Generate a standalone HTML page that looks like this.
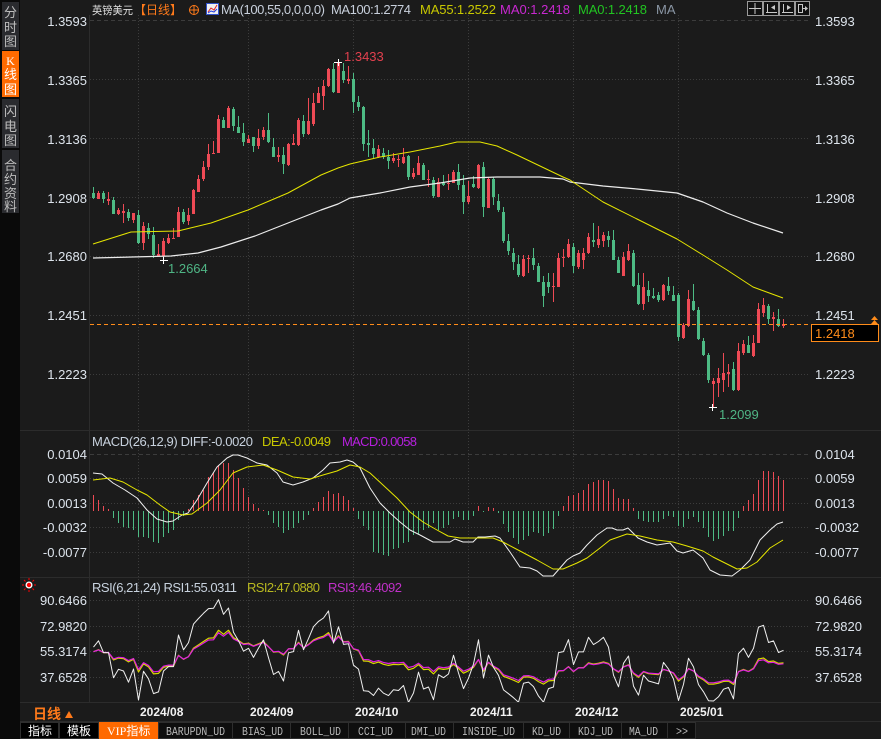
<!DOCTYPE html>
<html><head><meta charset="utf-8">
<style>
html,body{margin:0;padding:0;background:#1b1b1b;width:881px;height:739px;overflow:hidden}
svg{display:block}
text{font-family:"Liberation Sans","Noto Sans CJK SC",sans-serif}
.ax{font-size:13px;fill:#dde4ec}
.cj{font-family:"Noto Sans CJK SC","WenQuanYi Zen Hei",sans-serif}
.mono{font-family:"Liberation Mono",monospace;font-size:11.5px;fill:#b8b8b8}
</style></head>
<body>
<svg id="s" width="881" height="739" viewBox="0 0 881 739" xmlns="http://www.w3.org/2000/svg">
<defs>
<clipPath id="rsiClip"><rect x="90" y="588" width="722" height="114"/></clipPath>
</defs>
<rect width="881" height="739" fill="#1b1b1b"/>
<!-- sidebar -->
<rect x="0" y="0" width="20" height="739" fill="#0a0a0a"/>
<rect x="2" y="2" width="17" height="48" fill="#2a2b2f"/>
<rect x="2" y="51" width="17" height="46" fill="#ff6a00"/>
<rect x="2" y="99" width="17" height="49" fill="#2a2b2f"/>
<rect x="2" y="150" width="17" height="63" fill="#2a2b2f"/>
<g class="cj" font-size="13" text-anchor="middle" fill="#bdbdbd">
<text x="10.5" y="17">分</text><text x="10.5" y="32">时</text><text x="10.5" y="46">图</text>
<text x="10.5" y="65" fill="#fff" style="font-family:'Liberation Serif',serif" font-size="12">K</text><text x="10.5" y="79" fill="#fff">线</text><text x="10.5" y="94" fill="#fff">图</text>
<text x="10.5" y="116">闪</text><text x="10.5" y="131">电</text><text x="10.5" y="145">图</text>
<text x="10.5" y="170">合</text><text x="10.5" y="184">约</text><text x="10.5" y="198">资</text><text x="10.5" y="211">料</text>
</g>

<!-- separators -->
<g stroke="#2c2c2c" stroke-width="1">
<line x1="20" y1="430.5" x2="881" y2="430.5"/>
<line x1="20" y1="577.5" x2="881" y2="577.5"/>
<line x1="20" y1="702.5" x2="881" y2="702.5"/>
<line x1="20" y1="721.5" x2="881" y2="721.5"/>
<line x1="89.5" y1="15" x2="89.5" y2="702"/>
</g>

<!-- grid -->
<g stroke="#3c3c3c" stroke-width="1" fill="none">
<line x1="90" y1="20.5" x2="810" y2="20.5" stroke-dasharray="4,3"/>
<line x1="90" y1="79.5" x2="810" y2="79.5" stroke-dasharray="1,2"/>
<line x1="90" y1="138.5" x2="810" y2="138.5" stroke-dasharray="1,2"/>
<line x1="90" y1="197.5" x2="810" y2="197.5" stroke-dasharray="1,2"/>
<line x1="90" y1="256.5" x2="810" y2="256.5" stroke-dasharray="1,2"/>
<line x1="90" y1="315.5" x2="810" y2="315.5" stroke-dasharray="1,2"/>
<line x1="90" y1="374.5" x2="810" y2="374.5" stroke-dasharray="1,2"/>
<line x1="90" y1="454.5" x2="810" y2="454.5" stroke-dasharray="4,3"/>
<line x1="90" y1="478.5" x2="810" y2="478.5" stroke-dasharray="1,2"/>
<line x1="90" y1="503.5" x2="810" y2="503.5" stroke-dasharray="1,2"/>
<line x1="90" y1="527.5" x2="810" y2="527.5" stroke-dasharray="1,2"/>
<line x1="90" y1="552.5" x2="810" y2="552.5" stroke-dasharray="1,2"/>
<line x1="90" y1="600.5" x2="810" y2="600.5" stroke-dasharray="1,2"/>
<line x1="90" y1="626.5" x2="810" y2="626.5" stroke-dasharray="1,2"/>
<line x1="90" y1="651.5" x2="810" y2="651.5" stroke-dasharray="1,2"/>
<line x1="90" y1="677.5" x2="810" y2="677.5" stroke-dasharray="1,2"/>
<line x1="138.5" y1="15" x2="138.5" y2="702" stroke-dasharray="1,2"/>
<line x1="248.5" y1="15" x2="248.5" y2="702" stroke-dasharray="1,2"/>
<line x1="353.5" y1="15" x2="353.5" y2="702" stroke-dasharray="1,2"/>
<line x1="468.5" y1="15" x2="468.5" y2="702" stroke-dasharray="1,2"/>
<line x1="573.5" y1="15" x2="573.5" y2="702" stroke-dasharray="1,2"/>
<line x1="678.5" y1="15" x2="678.5" y2="702" stroke-dasharray="1,2"/>
</g>

<g id="dyn"></g>

<!-- current price dashed line -->
<line x1="90" y1="324.5" x2="811" y2="324.5" stroke="#ff8c1a" stroke-width="1" stroke-dasharray="4,3"/>

<!-- header -->
<text x="92" y="14" font-size="11" fill="#e0e0e0" class="cj" textLength="41" lengthAdjust="spacingAndGlyphs">英镑美元</text>
<text x="134" y="14" font-size="12" fill="#ff7a1a" class="cj">【日线】</text>
<circle cx="194" cy="10" r="4.5" fill="none" stroke="#ff7a1a" stroke-width="1"/>
<line x1="189" y1="10" x2="199" y2="10" stroke="#ff7a1a"/><line x1="194" y1="5" x2="194" y2="15" stroke="#ff7a1a"/>
<rect x="206.5" y="3.5" width="12" height="11" fill="#f0f0f0" stroke="#2f50c8"/>
<polyline points="208,12 211,8 214,10 217,5" fill="none" stroke="#e02020" stroke-width="1"/>
<polyline points="208,13 211,11 214,12 217,9" fill="none" stroke="#2040e0" stroke-width="1"/>
<text x="221" y="14" font-size="13" fill="#c8d0dc" textLength="104">MA(100,55,0,0,0,0)</text>
<text x="331" y="14" font-size="13" fill="#c8d0dc" textLength="80">MA100:1.2774</text>
<text x="420" y="14" font-size="13" fill="#c8c800" textLength="76">MA55:1.2522</text>
<text x="500" y="14" font-size="13" fill="#c828d0" textLength="70">MA0:1.2418</text>
<text x="578" y="14" font-size="13" fill="#22c422" textLength="69">MA0:1.2418</text>
<text x="656" y="14" font-size="13" fill="#8a96a4">MA</text>

<!-- top right buttons -->
<g fill="#111" stroke="#9a9a9a" stroke-width="1">
<rect x="747.5" y="1.5" width="15" height="14"/>
<rect x="763.5" y="1.5" width="15" height="14"/>
<rect x="779.5" y="1.5" width="15" height="14"/>
<rect x="795.5" y="1.5" width="14" height="14"/>
</g>
<g stroke="#c8c8c8" stroke-width="1" fill="#c8c8c8">
<line x1="755" y1="3" x2="755" y2="14"/><line x1="749" y1="8.5" x2="761" y2="8.5"/>
<line x1="767.5" y1="4" x2="767.5" y2="13"/><line x1="766" y1="12.5" x2="777" y2="12.5"/><polygon points="775,5 775,10 771,7.5" stroke="none"/>
<line x1="783.5" y1="4" x2="783.5" y2="13"/><line x1="782" y1="12.5" x2="793" y2="12.5"/><polygon points="787,5 787,10 791,7.5" stroke="none"/>
<rect x="798.5" y="4.5" width="4" height="8" fill="none"/><line x1="802" y1="8.5" x2="806" y2="8.5"/><polygon points="805,6 805,11 808,8.5" stroke="none"/>
</g>

<!-- left axis labels -->
<g class="ax" text-anchor="end">
<text x="87" y="26">1.3593</text><text x="87" y="85">1.3365</text><text x="87" y="144">1.3136</text>
<text x="87" y="203">1.2908</text><text x="87" y="261">1.2680</text><text x="87" y="320">1.2451</text><text x="87" y="379">1.2223</text>
<text x="87" y="459">0.0104</text><text x="87" y="483">0.0059</text><text x="87" y="508">0.0013</text>
<text x="87" y="532">-0.0032</text><text x="87" y="557">-0.0077</text>
<text x="87" y="605">90.6466</text><text x="87" y="631">72.9820</text><text x="87" y="656">55.3174</text><text x="87" y="682">37.6528</text>
</g>
<!-- right axis labels -->
<g class="ax">
<text x="815" y="26">1.3593</text><text x="815" y="85">1.3365</text><text x="815" y="144">1.3136</text>
<text x="815" y="203">1.2908</text><text x="815" y="261">1.2680</text><text x="815" y="320">1.2451</text><text x="815" y="379">1.2223</text>
<text x="815" y="459">0.0104</text><text x="815" y="483">0.0059</text><text x="815" y="508">0.0013</text>
<text x="815" y="532">-0.0032</text><text x="815" y="557">-0.0077</text>
<text x="815" y="605">90.6466</text><text x="815" y="631">72.9820</text><text x="815" y="656">55.3174</text><text x="815" y="682">37.6528</text>
</g>

<!-- current price box -->
<rect x="811.5" y="324.5" width="67" height="17" fill="#000" stroke="#ff8c1a" stroke-width="1"/>
<text x="815" y="338" font-size="13" fill="#ff8c1a">1.2418</text>
<polygon points="871,320 874.5,316 878,320" fill="#ff8c1a"/>
<polygon points="871,324 874.5,320 878,324" fill="#ff8c1a"/>

<!-- annotations -->
<g stroke="#ffffff" stroke-width="1">
<line x1="334" y1="62.5" x2="342" y2="62.5"/><line x1="338.5" y1="59" x2="338.5" y2="66"/>
<line x1="160" y1="260.5" x2="168" y2="260.5"/><line x1="163.5" y1="257" x2="163.5" y2="264"/>
<line x1="709" y1="407.5" x2="717" y2="407.5"/><line x1="712.5" y1="404" x2="712.5" y2="411"/>
</g>
<text x="344" y="61" font-size="13" fill="#e2404e">1.3433</text>
<text x="168" y="273" font-size="13" fill="#4fb585">1.2664</text>
<text x="719" y="419" font-size="13" fill="#4fb585">1.2099</text>

<!-- MACD header -->
<text x="92" y="446" font-size="13" fill="#c8d2de" textLength="161">MACD(26,12,9) DIFF:-0.0020</text>
<text x="262" y="446" font-size="13" fill="#c8c800" textLength="69">DEA:-0.0049</text>
<text x="342" y="446" font-size="13" fill="#b820e0" textLength="75">MACD:0.0058</text>

<!-- RSI header -->
<g>
<line x1="22" y1="585" x2="24" y2="585" stroke="#f00"/><line x1="34" y1="585" x2="36" y2="585" stroke="#f00"/>
<line x1="29" y1="578" x2="29" y2="580" stroke="#f00"/><line x1="29" y1="590" x2="29" y2="592" stroke="#f00"/>
<line x1="24" y1="580" x2="25.5" y2="581.5" stroke="#f00"/><line x1="34" y1="580" x2="32.5" y2="581.5" stroke="#f00"/>
<line x1="24" y1="590" x2="25.5" y2="588.5" stroke="#f00"/><line x1="34" y1="590" x2="32.5" y2="588.5" stroke="#f00"/>
<circle cx="29" cy="585" r="3.5" fill="#fff"/>
<circle cx="29" cy="585" r="2.2" fill="#f00"/>
</g>
<text x="92" y="592" font-size="13" fill="#c8d2de" textLength="145">RSI(6,21,24) RSI1:55.0311</text>
<text x="247" y="592" font-size="13" fill="#b8b820" textLength="73">RSI2:47.0880</text>
<text x="328" y="592" font-size="13" fill="#c030c8" textLength="74">RSI3:46.4092</text>

<!-- date axis -->
<g font-size="12" font-weight="bold" fill="#f2f2f2">
<text x="140" y="716">2024/08</text><text x="250" y="716">2024/09</text><text x="355" y="716">2024/10</text>
<text x="470" y="716">2024/11</text><text x="575" y="716">2024/12</text><text x="680" y="716">2025/01</text>
</g>
<text x="33" y="719" font-size="14" font-weight="bold" fill="#ff7a1a" class="cj">日线</text>
<polygon points="65,718 69,711 73,718" fill="#ff7a1a"/>

<!-- tab bar -->
<rect x="20" y="722" width="861" height="17" fill="#1b1b1b"/>
<g fill="#0e0e0e" stroke="#2e2e2e" stroke-width="1">
<rect x="20.5" y="722.5" width="38" height="16" fill="#000"/>
<rect x="59.5" y="722.5" width="39" height="16" fill="#000"/>
<rect x="158.5" y="722.5" width="74" height="16"/>
<rect x="232.5" y="722.5" width="58" height="16"/>
<rect x="290.5" y="722.5" width="58" height="16"/>
<rect x="348.5" y="722.5" width="57" height="16"/>
<rect x="405.5" y="722.5" width="48" height="16"/>
<rect x="453.5" y="722.5" width="70" height="16"/>
<rect x="523.5" y="722.5" width="46" height="16"/>
<rect x="569.5" y="722.5" width="52" height="16"/>
<rect x="621.5" y="722.5" width="46" height="16"/>
<rect x="667.5" y="722.5" width="28" height="16"/>
</g>
<rect x="99" y="722" width="59" height="17" fill="#ff6a00"/>
<text x="28" y="735" font-size="12" fill="#fff" class="cj">指标</text>
<text x="67" y="735" font-size="12" fill="#fff" class="cj">模板</text>
<text x="107" y="735" font-size="12" fill="#fff"><tspan style="font-family:'Liberation Serif',serif">VIP</tspan><tspan class="cj">指标</tspan></text>
<text x="166" y="735" class="mono" textLength="59" lengthAdjust="spacingAndGlyphs">BARUPDN_UD</text>
<text x="242" y="735" class="mono" textLength="41" lengthAdjust="spacingAndGlyphs">BIAS_UD</text>
<text x="300" y="735" class="mono" textLength="41" lengthAdjust="spacingAndGlyphs">BOLL_UD</text>
<text x="358" y="735" class="mono" textLength="35" lengthAdjust="spacingAndGlyphs">CCI_UD</text>
<text x="411" y="735" class="mono" textLength="35" lengthAdjust="spacingAndGlyphs">DMI_UD</text>
<text x="462" y="735" class="mono" textLength="53" lengthAdjust="spacingAndGlyphs">INSIDE_UD</text>
<text x="532" y="735" class="mono" textLength="29" lengthAdjust="spacingAndGlyphs">KD_UD</text>
<text x="578" y="735" class="mono" textLength="35" lengthAdjust="spacingAndGlyphs">KDJ_UD</text>
<text x="629" y="735" class="mono" textLength="29" lengthAdjust="spacingAndGlyphs">MA_UD</text>
<text x="676" y="735" class="mono" textLength="12" lengthAdjust="spacingAndGlyphs">&gt;&gt;</text>
</svg>

<script>
(function(){
const NS='http://www.w3.org/2000/svg';
const dyn=document.getElementById('dyn');
function el(tag,attrs,parent){const e=document.createElementNS(NS,tag);for(const k in attrs)e.setAttribute(k,attrs[k]);(parent||dyn).appendChild(e);return e;}
const RED='#ee4a55', GRN='#4dbb84';
const C=[
[0,193,198,187,199],[1,193,199,191,199],[0,193,199,191,203],[1,199,201,192,205],[0,200,214,197,214],
[1,210,214,208,215],[1,211,213,204,223],[0,212,218,209,221],[1,213,220,213,223],[0,215,243,210,244],
[1,226,243,222,250],[0,228,234,223,239],[0,235,255,227,258],[1,254,256,244,256],[1,241,256,238,260],
[1,238,243,234,244],[1,238,239,228,239],[1,212,237,207,237],[0,212,222,209,224],[1,215,221,208,225],
[1,190,214,189,214],[1,179,192,175,192],[1,167,179,161,181],[1,154,167,144,170],[1,153,154,141,154],
[1,119,153,115,153],[0,120,128,117,128],[1,108,128,106,128],[0,109,126,107,131],[0,127,133,116,133],
[0,133,142,123,146],[1,139,143,135,143],[0,137,146,137,152],[1,138,146,129,149],[1,130,137,127,140],
[0,130,142,113,143],[0,147,157,138,157],[1,155,157,147,162],[0,155,164,147,174],[1,144,165,143,166],
[1,143,145,134,145],[1,120,145,118,146],[0,121,134,115,137],[1,121,134,98,135],[1,103,124,93,126],
[1,93,103,87,103],[1,86,96,80,110],[1,69,86,68,87],[0,69,92,63,93],[1,63,93,62,93],
[0,71,80,63,83],[1,79,81,66,84],[0,79,102,73,113],[0,102,107,96,111],[0,107,144,106,151],
[0,143,145,130,157],[0,148,154,139,158],[1,149,157,145,158],[0,153,157,148,159],[0,157,161,150,169],
[1,158,161,153,163],[1,159,160,155,167],[1,157,163,148,164],[0,156,177,155,180],[1,173,177,168,179],
[1,163,175,156,175],[0,165,180,163,180],[1,179,180,170,187],[0,180,196,177,198],[1,182,197,178,197],
[0,183,185,175,186],[1,183,184,174,190],[1,172,183,170,183],[0,172,185,164,190],[0,185,202,175,214],
[1,196,202,181,204],[0,184,187,176,188],[1,165,188,164,189],[0,167,207,162,217],[1,179,208,177,208],
[0,179,197,177,205],[0,201,210,194,212],[0,212,241,207,243],[0,241,251,234,255],[0,253,262,248,270],
[0,264,275,255,277],[1,259,276,255,277],[1,258,259,255,273],[0,258,265,248,270],[0,266,282,263,282],
[0,282,296,276,307],[0,282,287,273,293],[1,286,287,273,302],[1,258,287,253,287],[1,257,258,249,267],
[1,244,257,239,258],[0,247,266,243,273],[1,253,267,250,269],[1,253,260,248,269],[1,237,253,233,254],
[0,240,242,223,247],[1,239,245,226,248],[1,235,241,232,247],[0,236,240,231,247],[0,240,260,230,260],
[0,260,273,257,273],[1,257,276,252,276],[1,251,260,244,261],[0,253,286,250,287],[0,285,304,273,305],
[1,287,304,273,310],[0,290,296,281,302],[0,296,298,288,299],[0,295,300,292,302],[1,285,300,284,301],
[0,286,291,277,295],[0,295,301,286,301],[0,295,337,293,341],[1,325,338,323,339],[1,299,326,290,327],
[0,301,310,284,311],[0,310,339,307,340],[0,341,355,338,356],[0,355,380,353,383],[1,381,384,378,407],
[1,378,383,368,397],[1,373,380,353,392],[1,372,374,364,387],[0,369,390,362,391],[1,351,390,343,391],
[1,344,353,340,355],[0,345,353,336,353],[1,343,356,335,357],[1,309,343,303,343],[1,305,313,298,317],
[0,306,319,304,324],[1,317,319,312,331],[0,319,326,309,327],[1,324,326,319,328]
];
const H=[495,500,506,509,518,523,527,528,530,537,537,538,542,543,537,533,530,520,516,509,
500,495,490,477,473,465,463,463,470,478,488,497,504,508,510,515,523,527,533,530,
528,523,520,515,508,502,497,491,494,493,496,500,508,519,526,530,552,553,555,556,
549,548,543,542,535,534,530,528,523,530,528,525,519,517,520,520,516,506,512,507,
508,513,524,532,538,544,540,536,532,533,536,533,529,516,506,496,495,493,490,484,
482,480,480,481,489,498,499,499,508,519,521,522,522,522,519,516,517,526,527,519,
517,522,528,537,541,539,536,531,531,518,506,500,494,480,471,471,472,476,480];
const gc=el('g',{});
H.forEach((v,i)=>{const x=93+5*i; if(i>=C.length)return;
  if(v<511) el('rect',{x:x,y:v,width:1,height:511-v,fill:RED},gc);
  else if(v>511) el('rect',{x:x,y:511,width:1,height:v-511,fill:GRN},gc);
});
C.forEach((c,i)=>{const col=c[0]?RED:GRN; const cx=93+5*i;
  el('rect',{x:cx,y:c[3],width:1,height:Math.max(1,c[4]-c[3]),fill:col},gc);
  el('rect',{x:cx-1,y:c[1],width:3,height:Math.max(1,c[2]-c[1]),fill:col},gc);
});
function pl(pts,color,w,clip){const a={points:pts.map(p=>p[0]+','+p[1]).join(' '),fill:'none',stroke:color,'stroke-width':w||1,'stroke-linejoin':'round'}; if(clip)a['clip-path']='url(#'+clip+')'; return el('polyline',a);}
pl([[93,258],[171,256],[198,253],[221,247],[255,236],[288,223],[321,210],[338,204],[350,198],[380,193],[410,187],[440,183],[470,178],[497,177],[540,177],[563,179],[570,182],[603,186],[637,189],[677,193],[703,202],[727,213],[753,223],[783,233]],'#ececec',1.2);
pl([[93,244],[131,232],[178,231],[211,223],[248,210],[288,193],[321,175],[338,168],[350,164],[380,157],[410,152],[440,146],[457,142],[480,142],[497,146],[517,155],[540,166],[563,177],[570,180],[603,202],[637,219],[677,239],[703,255],[727,270],[753,287],[783,298]],'#e6e600',1);
pl([[93,473],[102,474],[113,483],[125,490],[137,498],[147,510],[157,519],[167,522],[173,521],[182,515],[188,513],[197,500],[207,483],[217,467],[227,458],[233,455],[238,455],[247,458],[257,463],[267,465],[277,473],[283,482],[293,485],[303,482],[313,478],[323,470],[330,463],[340,462],[347,460],[353,462],[360,468],[370,488],[380,503],[390,513],[400,522],[410,530],[420,535],[433,542],[440,542],[450,542],[455,539],[463,542],[473,542],[478,537],[485,537],[495,536],[500,538],[510,552],[520,567],[530,568],[537,571],[543,576],[553,576],[567,560],[573,556],[580,553],[587,545],[597,535],[607,528],[612,528],[617,530],[623,530],[628,528],[638,538],[647,542],[657,545],[670,543],[677,551],[683,553],[693,550],[703,558],[710,570],[720,575],[732,576],[740,570],[750,560],[760,540],[770,530],[777,524],[783,522]],'#f0f0f0',1);
pl([[93,480],[110,478],[123,482],[137,490],[147,495],[160,505],[170,512],[183,515],[192,514],[207,503],[220,490],[233,473],[247,467],[263,465],[277,470],[293,477],[310,479],[323,475],[337,471],[350,465],[360,467],[370,473],[383,485],[397,498],[410,512],[423,522],[437,530],[448,536],[460,538],[473,538],[493,538],[503,542],[520,551],[537,560],[553,569],[563,569],[577,563],[587,558],[600,548],[610,540],[627,534],[640,536],[657,540],[673,542],[687,546],[703,551],[713,557],[727,564],[737,569],[747,568],[757,562],[770,548],[783,540]],'#e6e600',1);
const cl=C.map(c=>c[0]?c[1]:c[2]);
function rsi(N,u,d){const out=[];for(let i=0;i<cl.length;i++){if(i>0){const ch=cl[i-1]-cl[i];u=(u*(N-1)+Math.max(ch,0))/N;d=(d*(N-1)+Math.max(-ch,0))/N;}out.push(100*u/(u+d));}return out;}
const ry=v=>600+(90.6466-v)*1.449;
const r1=rsi(6,5,3.6), r2=rsi(21,4.4,3.6), r3=rsi(24,4.4,3.6);
pl(r2.map((v,i)=>[93.5+5*i,ry(v).toFixed(1)]),'#d8d800',1.2,'rsiClip');
pl(r3.map((v,i)=>[93.5+5*i,ry(v).toFixed(1)]),'#e020e0',1.2,'rsiClip');
pl(r1.map((v,i)=>[93.5+5*i,ry(v).toFixed(1)]),'#f0f0f0',1,'rsiClip');
})();
</script>
</body></html>
